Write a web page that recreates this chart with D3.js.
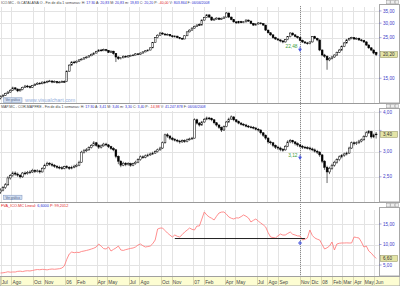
<!DOCTYPE html>
<html>
<head>
<meta charset="utf-8">
<script src="https://cdn.jsdelivr.net/npm/d3@7"></script>
<style>
  body { margin: 0; background: #fff; }
  svg { display: block; font-family: "Liberation Sans", Arial, sans-serif; }
</style>
</head>
<body>
<script>
// weekly bars, Fridays 01/07/2005 .. 06/06/2008
var weekStart = "2005-07-01", weekEnd = "2008-06-07";

// ICO.MC weekly candles
var icoOpen = [11.7,11.9,12.1,12.4,12.6,12.9,13.3,13.1,12.8,13.0, 13.4,13.6,13.5,13.4,13.7,13.9,14.1,14.0,14.3,14.2,
  14.4,14.5,14.3,14.4,14.2,14.3,14.4,14.4,16.4,17.7, 18.4,18.3,18.6,18.9,19.1,19.4,19.6,19.9,20.3,20.6,
  21.0,21.4,21.2,21.5,21.3,20.8,21.1,20.5,19.6,19.2, 19.4,19.8,19.6,19.9,20.0,20.1,20.4,20.3,20.6,20.9,
  21.2,21.4,22.0,23.5,25.0,25.8,26.5,26.2,25.9,26.1, 25.6,25.3,25.5,25.0,24.8,24.6,25.6,26.9,27.5,28.2,
  28.8,29.5,29.3,31.2,32.2,33.3,32.4,31.2,31.6,32.0, 31.5,31.9,32.4,34.1,32.4,31.4,30.5,30.1,30.6,30.2,
  30.5,31.2,30.8,29.9,29.3,29.7,30.1,29.8,29.3,27.5, 26.6,25.9,25.0,24.6,24.3,24.0,23.7,24.4,25.3,26.5,
  25.9,25.4,25.0,24.2,23.7,23.4,23.2,23.7,25.3,24.8, 24.3,21.4,20.1,19.8,18.9,19.3,19.6,20.1,20.8,21.4,
  22.4,23.4,24.3,24.7,25.0,24.6,24.8,24.3,24.1,23.7, 22.8,22.0,21.4,20.83];
var icoClose = [11.9,12.1,12.4,12.6,12.9,13.3,13.1,12.8,13.0,13.4, 13.6,13.5,13.4,13.7,13.9,14.1,14.0,14.3,14.2,14.4,
  14.5,14.3,14.4,14.2,14.3,14.4,14.3,16.4,17.7,18.4, 18.3,18.6,18.9,19.1,19.4,19.6,19.9,20.3,20.6,21.0,
  21.4,21.2,21.5,21.3,20.8,21.1,20.5,19.6,19.2,19.4, 19.8,19.6,19.9,20.0,20.1,20.4,20.3,20.6,20.9,21.2,
  21.4,22.0,23.5,25.0,25.8,26.5,26.2,25.9,26.1,25.6, 25.3,25.5,25.0,24.8,24.6,25.6,26.9,27.5,28.2,28.8,
  29.3,29.3,31.2,32.2,33.3,32.4,31.2,31.6,32.0,31.5, 31.9,32.4,34.1,32.4,31.4,30.5,30.1,30.6,30.2,30.5,
  31.2,30.8,29.9,29.3,29.7,30.1,29.8,29.3,27.5,26.6, 25.9,25.0,24.6,24.3,24.0,23.7,24.4,25.3,26.5,25.9,
  25.4,25.0,24.2,23.7,23.4,23.2,23.7,25.3,24.8,24.3, 21.4,20.1,19.8,18.9,19.3,19.6,20.1,20.8,21.4,22.4,
  23.4,24.3,24.7,25.0,24.6,24.8,24.3,24.1,23.7,22.8, 22.0,21.4,20.6,20.2];
var icoHigh = [12.1,12.3,12.5,12.8,13.1,13.5,13.4,13.2,13.2,13.5, 13.8,13.8,13.7,13.8,14.1,14.3,14.3,14.4,14.5,14.6,
  14.7,14.6,14.6,14.5,14.5,14.6,14.6,16.6,17.9,18.6, 18.7,18.8,19.1,19.3,19.6,19.8,20.1,20.5,20.8,21.2,
  21.6,21.7,21.8,21.7,21.4,21.3,21.2,20.6,19.8,19.6, 20.0,20.0,20.1,20.2,20.3,20.6,20.6,20.8,21.1,21.4,
  21.6,22.2,23.7,25.2,26.1,26.9,26.8,26.4,26.4,26.2, 25.8,25.8,25.6,25.2,25.0,25.8,27.1,27.8,28.5,29.1,
  29.6,29.9,31.5,32.5,33.7,33.5,32.6,31.9,32.3,32.2, 32.2,32.7,34.5,34.3,32.6,31.6,30.8,30.9,30.9,30.8,
  31.5,31.4,31.0,30.1,30.0,30.4,30.3,30.0,29.4,27.7, 26.8,26.1,25.3,24.9,24.5,24.2,24.6,25.5,26.8,26.7,
  26.1,25.6,25.2,24.4,23.9,23.7,23.9,25.5,25.6,25.0, 24.4,21.6,20.4,20.0,19.6,19.9,20.3,21.0,21.7,22.7,
  23.7,24.6,25.0,25.3,25.2,25.1,25.0,24.6,24.3,23.9, 23.0,22.2,21.6,20.83];
var icoLow = [11.5,11.8,12.0,12.3,12.5,12.8,12.9,12.6,12.7,12.9, 13.3,13.3,13.2,13.3,13.6,13.8,13.9,13.9,14.0,14.1,
  14.3,14.1,14.2,14.0,14.1,14.2,14.2,14.3,16.3,17.6, 18.0,18.1,18.4,18.8,19.0,19.2,19.5,19.8,20.1,20.5,
  20.9,21.0,21.1,21.0,20.6,20.6,20.2,18.4,18.9,19.0, 19.3,19.4,19.5,19.8,19.9,20.0,20.1,20.2,20.5,20.8,
  21.0,21.3,21.9,23.4,24.8,25.6,25.9,25.6,25.7,25.3, 25.0,25.1,24.8,24.5,24.3,24.5,25.5,26.7,27.3,28.0,
  28.6,29.0,29.2,31.0,32.0,32.1,30.9,31.0,31.4,31.2, 31.3,31.7,32.2,32.0,31.1,30.2,29.8,29.9,30.0,30.0,
  30.3,30.5,29.6,29.0,29.1,29.5,29.5,29.0,27.2,26.3, 25.6,24.7,24.3,24.0,23.6,23.3,23.5,24.2,25.1,25.6,
  25.1,24.7,23.9,23.4,23.1,22.9,23.0,23.5,24.5,23.9, 21.1,19.8,19.4,16.7,18.6,19.0,19.4,19.9,20.6,21.2,
  22.2,23.2,24.1,24.5,24.3,24.4,24.0,23.8,23.4,22.5, 21.7,21.1,20.3,19.83];

// MAP.MC weekly candles
var mapOpen = [2.24,2.27,2.31,2.36,2.48,2.52,2.57,2.55,2.53,2.50, 2.57,2.56,2.58,2.59,2.62,2.60,2.61,2.59,2.66,2.72,
  2.76,2.74,2.72,2.70,2.68,2.67,2.66,2.69,2.68,2.66, 2.68,2.70,2.72,2.78,2.99,3.02,3.04,3.09,3.14,3.20,
  3.14,3.10,3.13,3.17,3.15,3.11,3.07,3.04,2.90,2.80, 2.72,2.76,2.73,2.75,2.72,2.75,2.78,2.83,2.89,2.88,
  2.91,2.93,2.95,2.97,3.00,3.04,3.08,3.20,3.39,3.36, 3.31,3.28,3.26,3.24,3.22,3.25,3.23,3.27,3.29,3.31,
  3.78,3.69,3.64,3.72,3.79,3.83,3.81,3.78,3.70,3.64, 3.58,3.51,3.60,3.72,3.80,3.86,3.78,3.73,3.69,3.66,
  3.64,3.61,3.59,3.58,3.56,3.53,3.51,3.44,3.38,3.31, 3.22,3.20,3.14,3.10,3.08,3.05,3.04,3.12,3.22,3.25,
  3.22,3.18,3.15,3.12,3.10,3.09,3.08,3.06,3.04,3.01, 2.99,2.93,2.80,2.68,2.59,2.66,2.72,2.78,2.83,2.89,
  2.92,2.95,2.97,3.08,3.20,3.18,3.20,3.24,3.27,3.35, 3.44,3.47,3.34,3.41];
var mapClose = [2.27,2.31,2.36,2.48,2.52,2.57,2.55,2.53,2.50,2.57, 2.56,2.58,2.59,2.62,2.60,2.61,2.59,2.66,2.72,2.76,
  2.74,2.72,2.70,2.68,2.67,2.66,2.69,2.68,2.66,2.68, 2.70,2.72,2.78,2.99,3.02,3.04,3.09,3.14,3.20,3.14,
  3.10,3.13,3.17,3.15,3.11,3.07,3.04,2.90,2.80,2.72, 2.76,2.73,2.75,2.72,2.75,2.78,2.83,2.89,2.88,2.91,
  2.93,2.95,2.97,3.00,3.04,3.08,3.20,3.39,3.36,3.31, 3.28,3.26,3.24,3.22,3.25,3.23,3.27,3.29,3.31,3.78,
  3.69,3.64,3.72,3.79,3.83,3.81,3.78,3.70,3.64,3.58, 3.51,3.60,3.72,3.80,3.86,3.78,3.73,3.69,3.66,3.64,
  3.61,3.59,3.58,3.56,3.53,3.51,3.44,3.38,3.31,3.22, 3.20,3.14,3.10,3.08,3.05,3.04,3.12,3.22,3.25,3.22,
  3.18,3.15,3.12,3.10,3.09,3.08,3.06,3.04,3.01,2.99, 2.93,2.80,2.68,2.59,2.66,2.72,2.78,2.83,2.89,2.92,
  2.95,2.97,3.08,3.20,3.18,3.20,3.24,3.27,3.35,3.44, 3.47,3.34,3.39,3.40];
var mapHigh = [2.30,2.34,2.39,2.51,2.55,2.60,2.60,2.58,2.55,2.59, 2.60,2.61,2.62,2.65,2.64,2.64,2.63,2.68,2.75,2.79,
  2.78,2.77,2.74,2.72,2.71,2.70,2.71,2.72,2.70,2.71, 2.73,2.75,2.81,3.02,3.06,3.08,3.12,3.17,3.24,3.22,
  3.17,3.16,3.20,3.20,3.17,3.13,3.10,3.06,2.92,2.82, 2.79,2.78,2.78,2.77,2.77,2.81,2.86,2.92,2.92,2.94,
  2.96,2.98,3.00,3.03,3.07,3.11,3.23,3.42,3.43,3.38, 3.34,3.31,3.29,3.27,3.28,3.28,3.30,3.32,3.34,3.82,
  3.81,3.72,3.75,3.83,3.87,3.86,3.84,3.80,3.72,3.66, 3.60,3.63,3.75,3.84,3.90,3.88,3.80,3.76,3.72,3.69,
  3.67,3.64,3.62,3.61,3.59,3.56,3.53,3.46,3.40,3.33, 3.25,3.22,3.16,3.13,3.11,3.08,3.15,3.26,3.29,3.27,
  3.24,3.21,3.17,3.15,3.13,3.12,3.11,3.09,3.07,3.04, 3.01,2.95,2.82,2.71,2.69,2.75,2.81,2.86,2.92,2.95,
  2.98,3.00,3.11,3.23,3.23,3.23,3.27,3.30,3.38,3.48, 3.51,3.49,3.42,3.46];
var mapLow = [2.21,2.25,2.29,2.34,2.45,2.50,2.52,2.50,2.47,2.48, 2.53,2.54,2.55,2.57,2.57,2.58,2.56,2.58,2.64,2.70,
  2.71,2.69,2.67,2.65,2.64,2.63,2.64,2.65,2.63,2.64, 2.66,2.68,2.70,2.77,2.96,2.99,3.02,3.07,3.12,3.11,
  3.06,3.07,3.11,3.12,3.08,3.04,3.01,2.86,2.74,2.68, 2.70,2.70,2.71,2.69,2.70,2.73,2.76,2.81,2.85,2.86,
  2.89,2.91,2.93,2.95,2.98,3.02,3.06,3.18,3.32,3.27, 3.25,3.23,3.21,3.18,3.20,3.20,3.21,3.25,3.27,3.30,
  3.65,3.60,3.62,3.70,3.77,3.77,3.74,3.66,3.60,3.54, 3.46,3.49,3.58,3.70,3.78,3.74,3.70,3.66,3.63,3.61,
  3.58,3.56,3.55,3.53,3.50,3.47,3.40,3.34,3.27,3.18, 3.16,3.10,3.06,3.04,3.01,3.00,3.02,3.10,3.19,3.18,
  3.14,3.11,3.09,3.06,3.06,3.05,3.03,3.01,2.98,2.95, 2.89,2.76,2.63,2.39,2.55,2.63,2.69,2.75,2.80,2.86,
  2.89,2.92,2.95,3.06,3.14,3.15,3.17,3.21,3.25,3.33, 3.41,3.30,3.31,3.30];

// FVA_ICO.MC indicator, one value per week
var fvaValues = [3.05,3.10,3.20,3.35,3.25,3.30,3.29,3.45,3.50,3.40, 3.54,3.60,3.55,3.66,3.80,3.90,3.85,3.95,3.90,3.82,
  3.95,4.02,3.96,4.02,4.10,4.27,4.76,6.40,7.68,8.17, 8.00,8.10,8.05,8.30,8.41,8.55,8.70,8.90,9.10,9.39,
  10.12,9.60,9.00,8.90,9.39,8.41,8.80,9.15,9.63,8.66, 8.55,8.75,8.90,9.05,9.15,9.40,9.88,10.12,9.70,9.39,
  9.50,9.63,10.20,11.10,13.78,14.00,14.02,13.40,12.80,12.30, 11.83,12.32,12.00,11.83,12.40,13.05,13.50,14.02,13.70,13.54,
  14.51,14.51,16.20,17.93,17.20,16.71,16.40,15.98,16.90,17.68, 17.90,17.93,17.40,16.71,16.40,16.22,16.50,16.46,16.80,17.20,
  16.90,16.46,15.49,15.90,16.22,15.70,15.24,14.80,14.27,12.90, 11.83,11.70,11.59,12.10,12.56,12.30,12.32,12.70,13.05,12.50,
  12.32,12.10,12.07,11.10,11.30,11.59,13.54,12.20,11.59,11.30, 11.10,10.00,8.90,9.20,9.63,10.61,8.66,10.12,10.30,10.37,
  10.37,10.40,10.37,10.37,11.83,11.70,11.59,10.61,9.39,9.63, 8.41,7.90,7.20,6.60];

// horizontal trend line drawn on the indicator
var trendStart = "2006-11-10", trendEnd = "2007-11-16", trendValue = 11.46;

// cursor and annotations
var cursorDate = "2007-11-02";
var icoMark = 22.48, mapMark = 3.12, fvaMark = 10.37;

// axis ticks
var icoTicks = [15, 20, 25, 30, 35];
var mapTicks = [2.5, 3.0, 3.5, 4.0];
var fvaTicks = [5, 10, 15];
var monthDates = ["2005-07-01","2005-08-01","2005-10-01","2005-11-01","2006-01-01","2006-02-01","2006-04-01",
  "2006-05-01","2006-07-01","2006-08-01","2006-10-01","2006-11-01","2007-01-01","2007-02-01","2007-04-01",
  "2007-05-01","2007-07-01","2007-08-01","2007-09-01","2007-11-01","2007-12-01","2008-01-01","2008-02-01",
  "2008-03-01","2008-04-01","2008-05-01","2008-06-01"];
var monthLabels = ["Jul","Ago","Oct","Nov","06","Feb","Apr","May","Jul","Ago","Oct","Nov","07","Feb","Apr",
  "May","Jul","Ago","Sep","Nov","Dic","08","Feb","Mar","Apr","May","Jun"];

var parse = d3.timeParse("%Y-%m-%d");
var es = d3.formatLocale({decimal: ",", thousands: ".", grouping: [3], currency: ["", "€"]});
var fmt = es.format(".2f");

var W = 400, H = 286, plotW = 379;
var weeks = d3.timeFriday.range(parse(weekStart), parse(weekEnd));

var x = d3.scaleTime()
    .domain([parse("2005-07-01"), parse("2008-06-01")])
    .range([0.5, 374.4]);

var y1 = d3.scaleLog().domain([10.99, 40.17]).range([103, 0]);
var y2 = d3.scaleLog().domain([2.083, 4.239]).range([202, 104]);
var y3 = d3.scaleLinear().domain([2.32, 20.12]).range([276, 203]);

var panels = [
  {id: "p1", top: 0, bottom: 103, y: y1, ticks: icoTicks, last: icoClose[icoClose.length - 1]},
  {id: "p2", top: 104, bottom: 202, y: y2, ticks: mapTicks, last: mapClose[mapClose.length - 1]},
  {id: "p3", top: 203, bottom: 276, y: y3, ticks: fvaTicks, last: fvaValues[fvaValues.length - 1]}
];

var svg = d3.select("body").append("svg")
    .attr("width", W)
    .attr("height", H);

svg.append("rect").attr("width", W).attr("height", H).attr("fill", "#fff");
var defs = svg.append("defs");

var xc = x(parse(cursorDate));

// grids, separators, clip areas
panels.forEach(function(p) {
  defs.append("clipPath").attr("id", "clip-" + p.id)
    .append("rect").attr("x", 0).attr("y", p.top + 6).attr("width", plotW).attr("height", p.bottom - p.top - 6);

  var g = svg.append("g");
  g.selectAll("line.h").data(p.ticks).join("line")
      .attr("x1", 0).attr("x2", plotW)
      .attr("y1", function(d) { return Math.round(p.y(d)) + 0.5; })
      .attr("y2", function(d) { return Math.round(p.y(d)) + 0.5; })
      .attr("stroke", "#e3e3e3").attr("stroke-width", 1);
  g.selectAll("line.v").data(monthDates).join("line")
      .attr("x1", function(d) { return Math.round(x(parse(d))) + 0.5; })
      .attr("x2", function(d) { return Math.round(x(parse(d))) + 0.5; })
      .attr("y1", p.top + 7).attr("y2", p.bottom)
      .attr("stroke", "#e3e3e3").attr("stroke-width", 1);
});

[103.5, 202.5].forEach(function(yy) {
  svg.append("line").attr("x1", 0).attr("x2", W).attr("y1", yy).attr("y2", yy)
    .attr("stroke", "#9a9a9a").attr("stroke-width", 1);
});

// cursor line
svg.append("line")
    .attr("x1", Math.round(xc) + 0.5).attr("x2", Math.round(xc) + 0.5)
    .attr("y1", 6).attr("y2", 276)
    .attr("stroke", "#8a8a8a").attr("stroke-width", 1)
    .attr("stroke-dasharray", "1,1");

// headers
function header(yb, size, parts) {
  var t = svg.append("text")
      .attr("x", 1).attr("y", yb)
      .attr("font-size", size);
  parts.forEach(function(pt) { t.append("tspan").attr("fill", pt[1]).text(pt[0]); });
}
var dk = "#444", bl = "#2b2bd0", rd = "#e02020";
header(4.2, 3.55, [["ICO.MC - G.CATALANA O - Fin de día 1 semanas: H: ", dk], ["17:30", bl], [" A: ", dk], ["20,83", bl],
  [" M: ", dk], ["20,83", bl], [" m: ", dk], ["19,83", bl], [" C: ", dk], ["20,20", bl], [" P: ", dk], ["-40,00", rd],
  [" V: ", dk], ["803.864", bl], [" F: ", dk], ["06/06/2008", bl]]);
header(108.4, 3.55, [["MAP.MC - COR.MAPFRE - Fin de día 1 semanas: H: ", dk], ["17:30", bl], [" A: ", dk], ["3,41", bl],
  [" M: ", dk], ["3,46", bl], [" m: ", dk], ["3,30", bl], [" C: ", dk], ["3,40", bl], [" P: ", dk], ["-14,98", rd],
  [" V: ", dk], ["41.247.878", bl], [" F: ", dk], ["06/06/2008", bl]]);
header(206.6, 3.8, [["FVA_ICO.MC Lineal: ", rd], ["6,6000", bl], [" P: 99,2012", rd]]);

// candles
function candles(p, o, h, l, c) {
  var g = svg.append("g").attr("clip-path", "url(#clip-" + p.id + ")");
  var bw = 1.8;
  g.selectAll("line").data(weeks).join("line")
      .attr("x1", function(d) { return x(d); })
      .attr("x2", function(d) { return x(d); })
      .attr("y1", function(d, i) { return p.y(h[i]); })
      .attr("y2", function(d, i) { return p.y(l[i]); })
      .attr("stroke", "#000").attr("stroke-width", 0.6);
  g.selectAll("rect").data(weeks).join("rect")
      .attr("x", function(d) { return x(d) - bw / 2; })
      .attr("width", bw)
      .attr("y", function(d, i) { return p.y(Math.max(o[i], c[i])); })
      .attr("height", function(d, i) {
        return Math.max(0.8, p.y(Math.min(o[i], c[i])) - p.y(Math.max(o[i], c[i])));
      })
      .attr("fill", function(d, i) { return c[i] >= o[i] ? "#fff" : "#000"; })
      .attr("stroke", "#000").attr("stroke-width", 0.5);
}
candles(panels[0], icoOpen, icoHigh, icoLow, icoClose);
candles(panels[1], mapOpen, mapHigh, mapLow, mapClose);

// indicator line
var g3 = svg.append("g").attr("clip-path", "url(#clip-p3)");
g3.append("path")
    .datum(fvaValues)
    .attr("fill", "none")
    .attr("stroke", "#ff7a7a")
    .attr("stroke-width", 0.85)
    .attr("d", d3.line()
      .x(function(d, i) { return x(weeks[i]); })
      .y(function(d) { return y3(d); }));
g3.append("line")
    .attr("x1", x(parse(trendStart))).attr("x2", x(parse(trendEnd)))
    .attr("y1", y3(trendValue)).attr("y2", y3(trendValue))
    .attr("stroke", "#222").attr("stroke-width", 1);

// annotations at the cursor
function arrowMark(yy) {
  svg.append("path")
      .attr("d", "M" + (xc - 2) + "," + (yy - 1.5) + "L" + (xc + 2) + "," + (yy - 1.5) + "L" + xc + "," + (yy + 1.8) + "Z")
      .attr("fill", "#4a5ae0");
  svg.append("line").attr("x1", xc).attr("x2", xc).attr("y1", yy - 3.5).attr("y2", yy)
      .attr("stroke", "#4a5ae0").attr("stroke-width", 0.9);
}
function markLabel(yy, v) {
  svg.append("text").attr("x", xc - 2.5).attr("y", yy - 3.2)
      .attr("text-anchor", "end").attr("font-size", 4.8).attr("fill", "#3e9e3e")
      .text(fmt(v));
}
arrowMark(y1(icoMark) + 4);
markLabel(y1(icoMark) + 4 + 1.5, icoMark);
arrowMark(y2(mapMark) + 12);
markLabel(y2(mapMark) + 12 + 1.5, mapMark);
svg.append("path")
    .attr("d", "M" + (xc - 2) + "," + y3(fvaMark) + "H" + (xc + 2) + "M" + xc + "," + (y3(fvaMark) - 2) + "V" + (y3(fvaMark) + 2))
    .attr("stroke", "#4a5ae0").attr("stroke-width", 1.2);

// little buttons and watermark
function button(yy, label) {
  svg.append("rect").attr("x", 3.5).attr("y", yy).attr("width", 18.5).attr("height", 4.5)
      .attr("fill", "#d2def2").attr("stroke", "#7d93bb").attr("stroke-width", 0.5);
  svg.append("text").attr("x", 12.7).attr("y", yy + 3.4).attr("text-anchor", "middle")
      .attr("font-size", 3).attr("fill", "#4a5a80").text(label);
}
button(97.8, "Ver gráfico");
button(195.2, "Ver gráfico");
svg.append("text").attr("x", 25).attr("y", 102.3)
    .attr("font-size", 5.4).attr("fill", "#93aedc")
    .text("www.visualchart.com");

// right price axis
panels.forEach(function(p) {
  var g = svg.append("g");
  g.append("rect").attr("x", plotW + 0.5).attr("y", p.top + 4.5)
      .attr("width", W - plotW - 1).attr("height", p.bottom - p.top - 4.5)
      .attr("fill", "#fff").attr("stroke", "#a8a8a8").attr("stroke-width", 1);
  [0, 1, 2].forEach(function(k) {
    g.append("rect").attr("x", 386.5 + k * 4.3).attr("y", p.top + 0.5)
        .attr("width", 3.6).attr("height", 3.4)
        .attr("fill", "#eee").attr("stroke", "#888").attr("stroke-width", 0.4);
  });
  var shown = p.ticks.filter(function(t) { return Math.abs(p.y(t) - p.y(p.last)) > 5.5; });
  g.selectAll("line.t").data(p.ticks).join("line")
      .attr("x1", plotW).attr("x2", plotW + 2.5)
      .attr("y1", function(d) { return p.y(d); })
      .attr("y2", function(d) { return p.y(d); })
      .attr("stroke", "#6a6ad0").attr("stroke-width", 0.6);
  g.selectAll("text.t").data(shown).join("text")
      .attr("x", plotW + 4).attr("y", function(d) { return p.y(d); })
      .attr("dy", "0.35em").attr("font-size", 4.6).attr("fill", "#3c3cc8")
      .text(fmt);
  g.append("rect").attr("x", plotW + 1.5).attr("y", p.y(p.last) - 3)
      .attr("width", 17).attr("height", 6)
      .attr("fill", "#e4e4a6").attr("stroke", "#8c8c5c").attr("stroke-width", 0.5);
  g.append("text").attr("x", plotW + 4).attr("y", p.y(p.last))
      .attr("dy", "0.35em").attr("font-size", 4.6).attr("fill", "#333")
      .text(fmt(p.last));
});

// bottom time axis
svg.append("rect").attr("x", 0).attr("y", 276.5).attr("width", W).attr("height", 9.5)
    .attr("fill", "#fdfdd2").attr("stroke", "#a0a0a0").attr("stroke-width", 1);
var ax = svg.append("g");
ax.selectAll("line").data(monthDates).join("line")
    .attr("x1", function(d) { return Math.round(x(parse(d))) + 0.5; })
    .attr("x2", function(d) { return Math.round(x(parse(d))) + 0.5; })
    .attr("y1", 277).attr("y2", 286)
    .attr("stroke", "#d8d8b0").attr("stroke-width", 1);
ax.selectAll("text").data(monthDates).join("text")
    .attr("x", function(d) { return x(parse(d)) + 1.2; })
    .attr("y", 283.6)
    .attr("font-size", 4.8).attr("fill", "#444")
    .text(function(d, i) { return monthLabels[i]; });
</script>
</body>
</html>
